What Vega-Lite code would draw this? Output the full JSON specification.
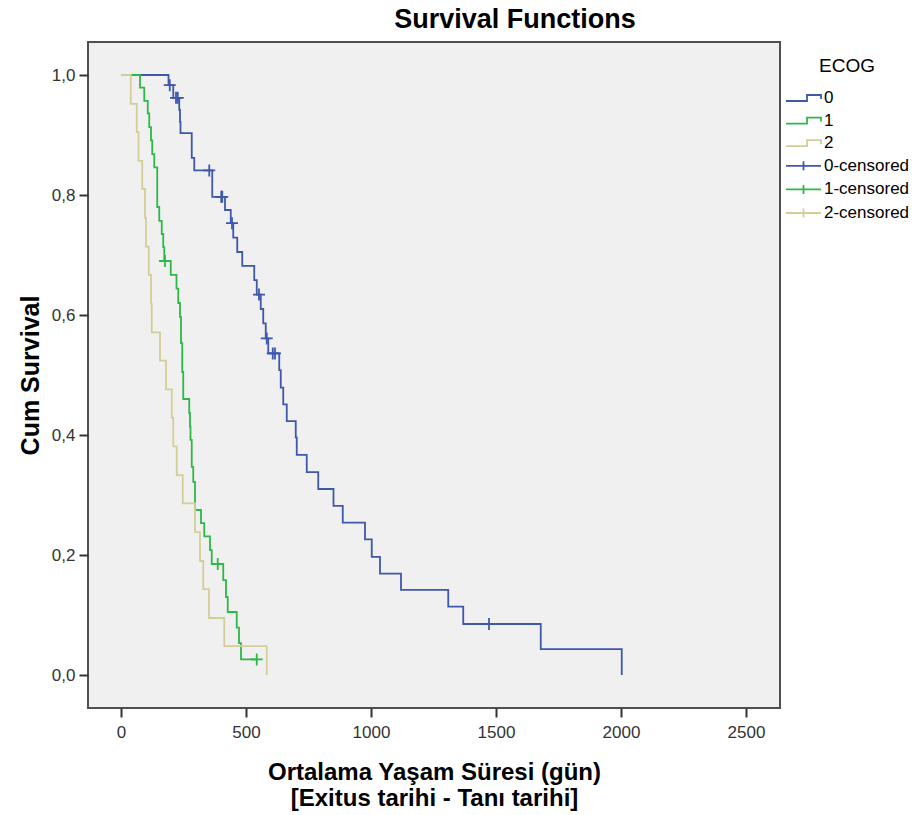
{
  "$schema": "https://vega.github.io/schema/vega-lite/v6.json",
  "width": 692,
  "height": 666,
  "autosize": "none",
  "padding": {"left": 88, "top": 42, "right": 141, "bottom": 107},
  "background": "white",
  "title": {"text": "Survival Functions", "anchor": "middle", "frame": "group", "dx": 81, "offset": 8, "fontSize": 27, "fontWeight": "bold", "font": "Liberation Sans", "color": "#000000"},
  "config": {
    "view": {"stroke": "#505050", "strokeWidth": 2, "fill": "#f0f0f0"},
    "axis": {"domain": false, "grid": false, "tickColor": "#333333", "tickSize": 9, "tickWidth": 2, "labelColor": "#333333", "labelFont": "Liberation Sans", "labelFontSize": 17, "titleFont": "Liberation Sans", "titleFontSize": 25, "titleFontWeight": "bold", "titleColor": "#000000"},
    "legend": {"labelFont": "Liberation Sans", "titleFont": "Liberation Sans"}
  },
  "datasets": {
    "curves": [
      {"g":"0","t":0,"s":1},{"g":"0","t":190,"s":0.983},{"g":"0","t":209,"s":0.962},{"g":"0","t":233,"s":0.942},{"g":"0","t":236,"s":0.922},{"g":"0","t":238,"s":0.903},{"g":"0","t":283,"s":0.862},{"g":"0","t":293,"s":0.841},{"g":"0","t":365,"s":0.797},{"g":"0","t":416,"s":0.775},{"g":"0","t":439,"s":0.753},{"g":"0","t":449,"s":0.729},{"g":"0","t":465,"s":0.705},{"g":"0","t":485,"s":0.682},{"g":"0","t":533,"s":0.658},{"g":"0","t":543,"s":0.634},{"g":"0","t":559,"s":0.61},{"g":"0","t":569,"s":0.586},{"g":"0","t":579,"s":0.561},{"g":"0","t":589,"s":0.536},{"g":"0","t":633,"s":0.508},{"g":"0","t":639,"s":0.479},{"g":"0","t":649,"s":0.451},{"g":"0","t":663,"s":0.423},{"g":"0","t":699,"s":0.396},{"g":"0","t":703,"s":0.367},{"g":"0","t":743,"s":0.338},{"g":"0","t":789,"s":0.31},{"g":"0","t":850,"s":0.282},{"g":"0","t":887,"s":0.254},{"g":"0","t":976,"s":0.226},{"g":"0","t":1003,"s":0.197},{"g":"0","t":1036,"s":0.169},{"g":"0","t":1120,"s":0.142},{"g":"0","t":1309,"s":0.114},{"g":"0","t":1369,"s":0.085},{"g":"0","t":1679,"s":0.043},{"g":"0","t":2003,"s":0.0},
      {"g":"1","t":0,"s":1},{"g":"1","t":76,"s":0.979},{"g":"1","t":93,"s":0.957},{"g":"1","t":107,"s":0.936},{"g":"1","t":113,"s":0.913},{"g":"1","t":120,"s":0.891},{"g":"1","t":125,"s":0.868},{"g":"1","t":133,"s":0.846},{"g":"1","t":145,"s":0.78},{"g":"1","t":153,"s":0.757},{"g":"1","t":163,"s":0.735},{"g":"1","t":169,"s":0.713},{"g":"1","t":173,"s":0.69},{"g":"1","t":199,"s":0.667},{"g":"1","t":222,"s":0.644},{"g":"1","t":229,"s":0.62},{"g":"1","t":236,"s":0.597},{"g":"1","t":240,"s":0.553},{"g":"1","t":245,"s":0.505},{"g":"1","t":249,"s":0.46},{"g":"1","t":273,"s":0.437},{"g":"1","t":276,"s":0.414},{"g":"1","t":278,"s":0.392},{"g":"1","t":283,"s":0.347},{"g":"1","t":289,"s":0.322},{"g":"1","t":296,"s":0.275},{"g":"1","t":320,"s":0.253},{"g":"1","t":333,"s":0.231},{"g":"1","t":356,"s":0.208},{"g":"1","t":363,"s":0.185},{"g":"1","t":409,"s":0.158},{"g":"1","t":420,"s":0.13},{"g":"1","t":427,"s":0.105},{"g":"1","t":463,"s":0.079},{"g":"1","t":472,"s":0.053},{"g":"1","t":480,"s":0.026},{"g":"1","t":543,"s":0.026},
      {"g":"2","t":0,"s":1},{"g":"2","t":39,"s":0.952},{"g":"2","t":63,"s":0.905},{"g":"2","t":70,"s":0.857},{"g":"2","t":85,"s":0.81},{"g":"2","t":96,"s":0.762},{"g":"2","t":100,"s":0.714},{"g":"2","t":111,"s":0.667},{"g":"2","t":120,"s":0.619},{"g":"2","t":123,"s":0.571},{"g":"2","t":156,"s":0.524},{"g":"2","t":180,"s":0.476},{"g":"2","t":203,"s":0.429},{"g":"2","t":209,"s":0.381},{"g":"2","t":223,"s":0.333},{"g":"2","t":247,"s":0.286},{"g":"2","t":296,"s":0.238},{"g":"2","t":316,"s":0.19},{"g":"2","t":329,"s":0.143},{"g":"2","t":352,"s":0.095},{"g":"2","t":413,"s":0.048},{"g":"2","t":583,"s":0.0}
    ],
    "censored": [
      {"c":"0-censored","t":195,"s":0.983},{"c":"0-censored","t":220,"s":0.962},{"c":"0-censored","t":227,"s":0.962},{"c":"0-censored","t":353,"s":0.841},{"c":"0-censored","t":401,"s":0.797},{"c":"0-censored","t":405,"s":0.797},{"c":"0-censored","t":444,"s":0.753},{"c":"0-censored","t":552,"s":0.634},{"c":"0-censored","t":583,"s":0.561},{"c":"0-censored","t":607,"s":0.536},{"c":"0-censored","t":616,"s":0.536},{"c":"0-censored","t":1472,"s":0.085},
      {"c":"1-censored","t":176,"s":0.69},{"c":"1-censored","t":387,"s":0.185},{"c":"1-censored","t":543,"s":0.026}
    ]
  },
  "layer": [
    {
      "data": {"name": "curves"},
      "mark": {"type": "line", "interpolate": "step-after", "strokeWidth": 1.8},
      "encoding": {
        "x": {"field": "t", "type": "quantitative", "scale": {"domain": [-132, 2636], "nice": false, "zero": false},
              "axis": {"values": [0, 500, 1000, 1500, 2000, 2500], "format": "d", "labelPadding": 7, "titlePadding": 20, "titleFontSize": 24, "titleLineHeight": 26,
                       "title": ["Ortalama Yaşam Süresi (gün)", "[Exitus tarihi - Tanı tarihi]"]}},
        "y": {"field": "s", "type": "quantitative", "scale": {"domain": [-0.055, 1.055], "nice": false, "zero": false},
              "axis": {"values": [0, 0.2, 0.4, 0.6, 0.8, 1.0], "labelExpr": "replace(format(datum.value, '.1f'), '.', ',')", "labelPadding": 4, "titlePadding": 8, "title": "Cum Survival"}},
        "color": {"field": "g", "type": "nominal",
                  "scale": {"domain": ["0", "1", "2", "0-censored", "1-censored", "2-censored"], "range": ["#3e58ac", "#2eb848", "#d3ce97", "#3e58ac", "#2eb848", "#d3ce97"]},
                  "legend": {"title": "ECOG", "orient": "none", "legendX": 697, "legendY": 15, "titleAnchor": "middle", "titleFontSize": 19, "titleFontWeight": "normal", "titleColor": "#000000", "titlePadding": 11,
                             "labelFontSize": 17, "labelColor": "#000000", "labelOffset": 17, "symbolSize": 400, "rowPadding": 3.6, "padding": 0,
                             "encode": {"symbols": {"update": {"shape": {"signal": "indexof(datum.value, 'censored') >= 0 ? 'M-1,0H2.5M0.75,-0.45V0.45' : 'M-1,0.3H1.1V-0.3H2.5V0.1'"}, "fill": {"value": "transparent"}, "strokeWidth": {"value": 1.8}, "opacity": {"value": 1}}}}}}
      }
    },
    {
      "data": {"name": "censored"},
      "mark": {"type": "point", "shape": "M-1,0H1M0,-1V1", "filled": false, "size": 144, "strokeWidth": 1.8, "opacity": 1},
      "encoding": {
        "x": {"field": "t", "type": "quantitative"},
        "y": {"field": "s", "type": "quantitative"},
        "color": {"field": "c", "type": "nominal"}
      }
    }
  ]
}
